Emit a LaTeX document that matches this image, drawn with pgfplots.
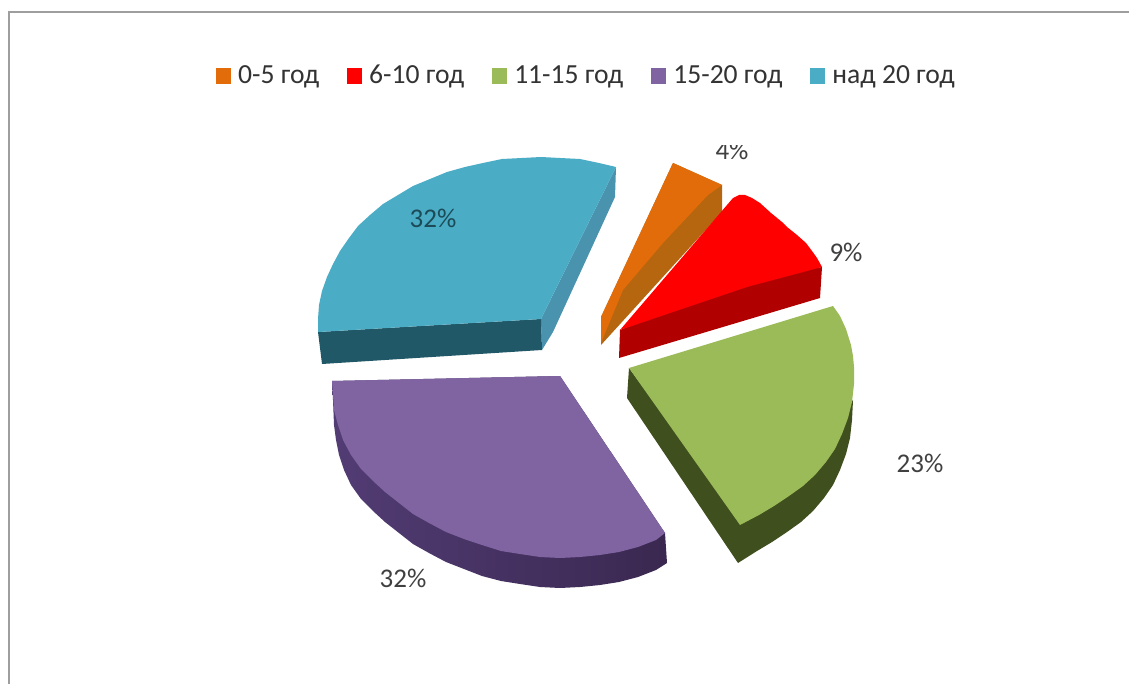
\documentclass[border=0pt]{standalone}
\usepackage{fontspec}
\setmainfont{Carlito}
\usepackage{pgfplots}
\pgfplotsset{compat=1.18}
\definecolor{cOr}{HTML}{E36C0A}
\definecolor{cOrD}{HTML}{B5660F}
\definecolor{cRe}{HTML}{FF0000}
\definecolor{cReD}{HTML}{B00000}
\definecolor{cGr}{HTML}{9BBB59}
\definecolor{cGrD}{HTML}{3F4F1D}
\definecolor{cPu}{HTML}{8064A2}
\definecolor{cPuD}{HTML}{3A2850}
\definecolor{cPuM}{HTML}{523C74}
\definecolor{cTe}{HTML}{4BACC6}
\definecolor{cTeS}{HTML}{4A93AE}
\definecolor{cTeD}{HTML}{215868}
\begin{document}
\begin{tikzpicture}
\begin{axis}[
  scale only axis, width=564.5pt, height=342pt,
  xmin=0, xmax=1129, ymin=0, ymax=684, y dir=reverse,
  axis lines=none, clip=true,
  legend columns=5,
  legend cell align=left,
  legend style={at={(0.5198,0.889)}, anchor=center, draw=none, fill=none,
    font=\fontsize{13.8}{16}\selectfont\color{black!80},
    /tikz/every even column/.style={column sep=12.5pt},
    /tikz/every odd column/.style={column sep=2pt},
    inner sep=0pt, nodes={inner sep=1.5pt}},
  legend image code/.code={\fill[#1] (0pt,-4.2pt) rectangle (7.5pt,4.2pt);},
]
% page and frame
\addplot[fill=white, draw=none, forget plot] coordinates {(0,0)(1129,0)(1129,684)(0,684)} --cycle;
\addplot[draw=black!38, line width=1pt, forget plot] coordinates {(9,684)(9,12)(1129,12)};

% 3D sides
\addplot[fill=cOrD, draw=none, forget plot] coordinates {(673,163)(722,185)(722,212)(601,345)(601,317)} --cycle;
\addplot[fill=cReD, draw=none, forget plot] coordinates {(620,330)(747,280)(822,267)(820,298)(619,358)} --cycle;
\addplot[fill=cGrD, draw=none, forget plot] coordinates {(629,368)(627,398)(738,563)(757,551)(772,542)(787,532)(801,522)(813,511)(824,498)(833,485)(840,470)(846,454)(850,438)(852,420)(853,400)(740,520)} --cycle;
\addplot[shade, left color=cPuM, right color=cPuD, draw=none, forget plot] coordinates {(665,533)(667,563)(656,570)(638,577)(619,582)(600,585)(580,587)(560,588)(540,587)(520,584)(501,581)(482,576)(464,569)(446,562)(429,553)(413,544)(399,533)(385,522)(373,511)(361,499)(351,485)(344,470)(339,455)(336,440)(334,425)(333,400)(332,381)(560,376)} --cycle;
\addplot[fill=cTeS, draw=none, forget plot] coordinates {(616,167)(615,197)(553,332)(542,350)(541,319)} --cycle;
\addplot[fill=cTeD, draw=none, forget plot] coordinates {(318,332)(541,319)(542,350)(322,364)} --cycle;

% top faces
\addplot[fill=cOr, draw=none] coordinates {(673,163)(722,185)(708,195)(663,243)(623,290)(601,343)(601,317)} --cycle;
\addlegendentry{0-5 год}
\addplot[fill=cRe, draw=none] coordinates {(620,330)(733,198)(739,195)(745,195)(752,198)(760,203)(771,213)(782,222)(787,227)(797,235)(806,243)(812,251)(817,258)(822,267)(747,287)} --cycle;
\addlegendentry{6-10 год}
\addplot[fill=cGr, draw=none] coordinates {(629,368)(833,306)(840,316)(846,329)(851,345)(853,356)(854,367)(854,384)(852,402)(848,418)(842,434)(835,449)(826,462)(815,475)(803,486)(789,496)(774,506)(759,515)(740,525)} --cycle;
\addlegendentry{11-15 год}
\addplot[fill=cPu, draw=none] coordinates {(332,381)(560,376)(665,533)(656,540)(638,547)(619,552)(600,555)(580,557)(560,558)(540,557)(520,554)(501,551)(482,545)(464,539)(446,532)(429,523)(413,514)(399,503)(385,492)(373,481)(361,469)(351,455)(343,440)(338,425)(334,410)} --cycle;
\addlegendentry{15-20 год}
\addplot[fill=cTe, draw=none] coordinates {(541,319)(616,167)(599,163)(580,159)(560,158)(541,157)(522,158)(502,159)(483,163)(465,167)(447,172)(430,179)(413,186)(398,195)(383,204)(370,215)(358,226)(349,238)(340,251)(333,264)(327,277)(322,291)(319,305)(318,319)(318,332)} --cycle;
\addlegendentry{над 20 год}

% data labels
\begin{scope}
\clip (axis cs:700,146) rectangle (axis cs:765,165);
\node[font=\fontsize{13.5}{15}\selectfont, text=black!75] at (axis cs:732,150) {4\%};
\end{scope}
\node[font=\fontsize{13.5}{15}\selectfont, text=black!75] at (axis cs:846,252) {9\%};
\node[font=\fontsize{13.5}{15}\selectfont, text=black!75] at (axis cs:920,463) {23\%};
\node[font=\fontsize{13.5}{15}\selectfont, text=black!75] at (axis cs:403,578) {32\%};
\node[font=\fontsize{13.5}{15}\selectfont, text=cTeD!85!black] at (axis cs:433,218) {32\%};
\end{axis}
\end{tikzpicture}
\end{document}
